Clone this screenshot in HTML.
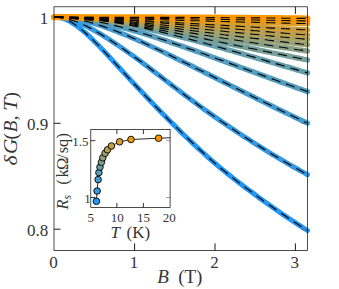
<!DOCTYPE html>
<html><head><meta charset="utf-8"><title>chart</title>
<style>html,body{margin:0;padding:0;background:#fff;overflow:hidden}svg{display:block;position:absolute;left:0;top:0}</style></head>
<body>
<svg width="339" height="289" viewBox="0 0 339 289">
<rect width="339" height="289" fill="#fff"/>
<path d="M134.6 250.4v-7M134.6 6.8v7M215.0 250.4v-7M215.0 6.8v7M295.4 250.4v-7M295.4 6.8v7M54.0 17.4h6.5M54.0 123.3h6.5M54.0 229.2h6.5" stroke="#000" stroke-width="0.9" fill="none"/>
<polyline points="54.2,17.2 57.4,17.2 60.6,17.7 63.8,18.7 67.0,20.0 70.2,21.6 73.4,23.6 76.6,25.8 79.8,28.2 83.1,30.9 86.3,33.7 89.5,36.6 92.7,39.7 95.9,42.9 99.1,46.1 102.3,49.5 105.5,52.8 108.7,56.3 111.9,59.7 115.1,63.2 118.3,66.7 121.5,70.1 124.7,73.6 127.9,77.1 131.1,80.6 134.3,84.0 137.6,87.5 140.8,90.9 144.0,94.3 147.2,97.7 150.4,101.0 153.6,104.4 156.8,107.7 160.0,111.0 163.2,114.3 166.4,117.5 169.6,120.8 172.8,123.9 176.0,127.1 179.2,130.2 182.4,133.4 185.6,136.5 188.8,139.5 192.1,142.6 195.3,145.6 198.5,148.6 201.7,151.5 204.9,154.4 208.1,157.3 211.3,160.1 214.5,162.9 217.7,165.6 220.9,168.3 224.1,170.9 227.3,173.5 230.5,176.0 233.7,178.6 236.9,181.1 240.1,183.5 243.3,186.0 246.5,188.4 249.8,190.8 253.0,193.1 256.2,195.5 259.4,197.9 262.6,200.2 265.8,202.5 269.0,204.8 272.2,207.0 275.4,209.2 278.6,211.5 281.8,213.7 285.0,215.8 288.2,218.0 291.4,220.1 294.6,222.2 297.8,224.3 301.0,226.4 304.3,228.5 307.5,230.5" fill="none" stroke="#2196f3" stroke-width="5.0" stroke-linecap="round" stroke-linejoin="round"/>
<polyline points="54.2,17.2 57.4,17.3 60.6,17.6 63.8,18.1 67.0,18.8 70.2,19.6 73.4,20.7 76.6,21.8 79.8,23.1 83.1,24.6 86.3,26.1 89.5,27.8 92.7,29.5 95.9,31.4 99.1,33.2 102.3,35.2 105.5,37.2 108.7,39.2 111.9,41.3 115.1,43.4 118.3,45.5 121.5,47.7 124.7,50.0 127.9,52.2 131.1,54.5 134.3,56.8 137.6,59.2 140.8,61.5 144.0,63.9 147.2,66.3 150.4,68.8 153.6,71.2 156.8,73.7 160.0,76.1 163.2,78.6 166.4,81.0 169.6,83.5 172.8,85.9 176.0,88.4 179.2,90.8 182.4,93.3 185.6,95.7 188.8,98.1 192.1,100.5 195.3,102.8 198.5,105.2 201.7,107.5 204.9,109.9 208.1,112.1 211.3,114.4 214.5,116.6 217.7,118.9 220.9,121.1 224.1,123.3 227.3,125.4 230.5,127.6 233.7,129.7 236.9,131.9 240.1,134.0 243.3,136.1 246.5,138.2 249.8,140.2 253.0,142.3 256.2,144.3 259.4,146.3 262.6,148.3 265.8,150.3 269.0,152.3 272.2,154.3 275.4,156.2 278.6,158.1 281.8,160.0 285.0,161.9 288.2,163.8 291.4,165.7 294.6,167.5 297.8,169.3 301.0,171.1 304.3,172.9 307.5,174.7" fill="none" stroke="#3299e1" stroke-width="5.0" stroke-linecap="round" stroke-linejoin="round"/>
<polyline points="54.2,17.2 57.4,17.3 60.6,17.4 63.8,17.6 67.0,17.9 70.2,18.3 73.4,18.8 76.6,19.3 79.8,20.0 83.1,20.7 86.3,21.4 89.5,22.2 92.7,23.1 95.9,24.1 99.1,25.1 102.3,26.1 105.5,27.2 108.7,28.3 111.9,29.5 115.1,30.7 118.3,32.0 121.5,33.3 124.7,34.6 127.9,35.9 131.1,37.3 134.3,38.7 137.6,40.1 140.8,41.5 144.0,43.0 147.2,44.5 150.4,46.0 153.6,47.5 156.8,49.0 160.0,50.5 163.2,52.0 166.4,53.6 169.6,55.1 172.8,56.7 176.0,58.3 179.2,59.8 182.4,61.4 185.6,63.0 188.8,64.6 192.1,66.2 195.3,67.8 198.5,69.4 201.7,71.0 204.9,72.6 208.1,74.2 211.3,75.8 214.5,77.4 217.7,79.1 220.9,80.7 224.1,82.3 227.3,83.9 230.5,85.5 233.7,87.1 236.9,88.7 240.1,90.3 243.3,91.9 246.5,93.5 249.8,95.1 253.0,96.7 256.2,98.3 259.4,99.9 262.6,101.5 265.8,103.0 269.0,104.6 272.2,106.2 275.4,107.8 278.6,109.3 281.8,110.9 285.0,112.4 288.2,114.0 291.4,115.5 294.6,117.1 297.8,118.6 301.0,120.1 304.3,121.7 307.5,123.2" fill="none" stroke="#439bd0" stroke-width="5.2" stroke-linecap="round" stroke-linejoin="round"/>
<polyline points="54.2,17.2 57.4,17.2 60.6,17.3 63.8,17.4 67.0,17.6 70.2,17.9 73.4,18.1 76.6,18.5 79.8,18.8 83.1,19.3 86.3,19.7 89.5,20.2 92.7,20.8 95.9,21.4 99.1,22.0 102.3,22.6 105.5,23.3 108.7,24.1 111.9,24.8 115.1,25.6 118.3,26.4 121.5,27.2 124.7,28.1 127.9,29.0 131.1,29.9 134.3,30.8 137.6,31.7 140.8,32.7 144.0,33.7 147.2,34.7 150.4,35.7 153.6,36.7 156.8,37.7 160.0,38.8 163.2,39.8 166.4,40.9 169.6,42.0 172.8,43.1 176.0,44.2 179.2,45.3 182.4,46.4 185.6,47.5 188.8,48.6 192.1,49.8 195.3,50.9 198.5,52.0 201.7,53.2 204.9,54.3 208.1,55.5 211.3,56.7 214.5,57.8 217.7,59.0 220.9,60.1 224.1,61.3 227.3,62.5 230.5,63.6 233.7,64.8 236.9,66.0 240.1,67.2 243.3,68.3 246.5,69.5 249.8,70.7 253.0,71.8 256.2,73.0 259.4,74.2 262.6,75.4 265.8,76.5 269.0,77.7 272.2,78.9 275.4,80.0 278.6,81.2 281.8,82.4 285.0,83.5 288.2,84.7 291.4,85.8 294.6,87.0 297.8,88.2 301.0,89.3 304.3,90.5 307.5,91.6" fill="none" stroke="#549dbe" stroke-width="5.4" stroke-linecap="round" stroke-linejoin="round"/>
<polyline points="54.2,17.2 57.4,17.2 60.6,17.3 63.8,17.3 67.0,17.5 70.2,17.6 73.4,17.8 76.6,18.0 79.8,18.2 83.1,18.5 86.3,18.8 89.5,19.1 92.7,19.5 95.9,19.8 99.1,20.2 102.3,20.7 105.5,21.1 108.7,21.6 111.9,22.1 115.1,22.6 118.3,23.2 121.5,23.7 124.7,24.3 127.9,24.9 131.1,25.5 134.3,26.2 137.6,26.8 140.8,27.5 144.0,28.2 147.2,28.9 150.4,29.6 153.6,30.3 156.8,31.0 160.0,31.8 163.2,32.6 166.4,33.3 169.6,34.1 172.8,34.9 176.0,35.7 179.2,36.5 182.4,37.4 185.6,38.2 188.8,39.0 192.1,39.9 195.3,40.7 198.5,41.6 201.7,42.4 204.9,43.3 208.1,44.2 211.3,45.1 214.5,46.0 217.7,46.9 220.9,47.7 224.1,48.6 227.3,49.6 230.5,50.5 233.7,51.4 236.9,52.3 240.1,53.2 243.3,54.1 246.5,55.1 249.8,56.0 253.0,56.9 256.2,57.8 259.4,58.8 262.6,59.7 265.8,60.6 269.0,61.6 272.2,62.5 275.4,63.5 278.6,64.4 281.8,65.3 285.0,66.3 288.2,67.2 291.4,68.2 294.6,69.1 297.8,70.1 301.0,71.0 304.3,72.0 307.5,72.9" fill="none" stroke="#659eac" stroke-width="5.4" stroke-linecap="round" stroke-linejoin="round"/>
<polyline points="54.2,17.2 57.4,17.2 60.6,17.3 63.8,17.3 67.0,17.5 70.2,17.6 73.4,17.8 76.6,18.0 79.8,18.2 83.1,18.5 86.3,18.7 89.5,19.0 92.7,19.4 95.9,19.7 99.1,20.1 102.3,20.5 105.5,20.9 108.7,21.3 111.9,21.8 115.1,22.2 118.3,22.7 121.5,23.2 124.7,23.7 127.9,24.2 131.1,24.8 134.3,25.3 137.6,25.9 140.8,26.4 144.0,27.0 147.2,27.6 150.4,28.2 153.6,28.8 156.8,29.4 160.0,30.0 163.2,30.6 166.4,31.2 169.6,31.8 172.8,32.5 176.0,33.1 179.2,33.7 182.4,34.4 185.6,35.0 188.8,35.7 192.1,36.3 195.3,37.0 198.5,37.6 201.7,38.3 204.9,38.9 208.1,39.6 211.3,40.2 214.5,40.9 217.7,41.6 220.9,42.2 224.1,42.9 227.3,43.5 230.5,44.2 233.7,44.9 236.9,45.5 240.1,46.2 243.3,46.9 246.5,47.5 249.8,48.2 253.0,48.8 256.2,49.5 259.4,50.2 262.6,50.8 265.8,51.5 269.0,52.1 272.2,52.8 275.4,53.4 278.6,54.1 281.8,54.7 285.0,55.4 288.2,56.0 291.4,56.7 294.6,57.3 297.8,58.0 301.0,58.6 304.3,59.3 307.5,59.9" fill="none" stroke="#769f99" stroke-width="5.4" stroke-linecap="round" stroke-linejoin="round"/>
<polyline points="54.2,17.2 57.4,17.2 60.6,17.3 63.8,17.3 67.0,17.4 70.2,17.6 73.4,17.7 76.6,17.9 79.8,18.1 83.1,18.3 86.3,18.6 89.5,18.9 92.7,19.2 95.9,19.5 99.1,19.8 102.3,20.1 105.5,20.5 108.7,20.9 111.9,21.3 115.1,21.7 118.3,22.1 121.5,22.5 124.7,22.9 127.9,23.3 131.1,23.8 134.3,24.2 137.6,24.7 140.8,25.2 144.0,25.6 147.2,26.1 150.4,26.6 153.6,27.1 156.8,27.6 160.0,28.1 163.2,28.6 166.4,29.1 169.6,29.6 172.8,30.1 176.0,30.6 179.2,31.1 182.4,31.6 185.6,32.1 188.8,32.6 192.1,33.1 195.3,33.6 198.5,34.2 201.7,34.7 204.9,35.2 208.1,35.7 211.3,36.2 214.5,36.7 217.7,37.2 220.9,37.7 224.1,38.3 227.3,38.8 230.5,39.3 233.7,39.8 236.9,40.3 240.1,40.8 243.3,41.3 246.5,41.8 249.8,42.3 253.0,42.8 256.2,43.3 259.4,43.8 262.6,44.3 265.8,44.8 269.0,45.3 272.2,45.8 275.4,46.3 278.6,46.8 281.8,47.3 285.0,47.7 288.2,48.2 291.4,48.7 294.6,49.2 297.8,49.7 301.0,50.1 304.3,50.6 307.5,51.1" fill="none" stroke="#87a087" stroke-width="5.4" stroke-linecap="round" stroke-linejoin="round"/>
<polyline points="54.2,17.2 57.4,17.2 60.6,17.3 63.8,17.3 67.0,17.4 70.2,17.5 73.4,17.7 76.6,17.8 79.8,18.0 83.1,18.2 86.3,18.4 89.5,18.7 92.7,18.9 95.9,19.2 99.1,19.5 102.3,19.8 105.5,20.1 108.7,20.4 111.9,20.8 115.1,21.1 118.3,21.4 121.5,21.8 124.7,22.2 127.9,22.5 131.1,22.9 134.3,23.3 137.6,23.7 140.8,24.1 144.0,24.4 147.2,24.8 150.4,25.2 153.6,25.6 156.8,26.0 160.0,26.5 163.2,26.9 166.4,27.3 169.6,27.7 172.8,28.1 176.0,28.5 179.2,28.9 182.4,29.3 185.6,29.7 188.8,30.1 192.1,30.6 195.3,31.0 198.5,31.4 201.7,31.8 204.9,32.2 208.1,32.6 211.3,33.0 214.5,33.4 217.7,33.8 220.9,34.2 224.1,34.7 227.3,35.1 230.5,35.5 233.7,35.9 236.9,36.3 240.1,36.7 243.3,37.1 246.5,37.5 249.8,37.9 253.0,38.2 256.2,38.6 259.4,39.0 262.6,39.4 265.8,39.8 269.0,40.2 272.2,40.6 275.4,41.0 278.6,41.3 281.8,41.7 285.0,42.1 288.2,42.5 291.4,42.9 294.6,43.2 297.8,43.6 301.0,44.0 304.3,44.3 307.5,44.7" fill="none" stroke="#99a074" stroke-width="5.4" stroke-linecap="round" stroke-linejoin="round"/>
<polyline points="54.2,17.2 57.4,17.2 60.6,17.2 63.8,17.3 67.0,17.4 70.2,17.5 73.4,17.6 76.6,17.7 79.8,17.9 83.1,18.0 86.3,18.2 89.5,18.4 92.7,18.6 95.9,18.8 99.1,19.1 102.3,19.3 105.5,19.6 108.7,19.8 111.9,20.1 115.1,20.4 118.3,20.7 121.5,20.9 124.7,21.2 127.9,21.5 131.1,21.8 134.3,22.2 137.6,22.5 140.8,22.8 144.0,23.1 147.2,23.4 150.4,23.7 153.6,24.1 156.8,24.4 160.0,24.7 163.2,25.0 166.4,25.4 169.6,25.7 172.8,26.0 176.0,26.4 179.2,26.7 182.4,27.0 185.6,27.4 188.8,27.7 192.1,28.0 195.3,28.4 198.5,28.7 201.7,29.0 204.9,29.4 208.1,29.7 211.3,30.0 214.5,30.3 217.7,30.7 220.9,31.0 224.1,31.3 227.3,31.7 230.5,32.0 233.7,32.3 236.9,32.6 240.1,32.9 243.3,33.3 246.5,33.6 249.8,33.9 253.0,34.2 256.2,34.5 259.4,34.8 262.6,35.2 265.8,35.5 269.0,35.8 272.2,36.1 275.4,36.4 278.6,36.7 281.8,37.0 285.0,37.3 288.2,37.6 291.4,37.9 294.6,38.2 297.8,38.5 301.0,38.8 304.3,39.1 307.5,39.4" fill="none" stroke="#aaa061" stroke-width="5.4" stroke-linecap="round" stroke-linejoin="round"/>
<polyline points="54.2,17.2 57.4,17.2 60.6,17.2 63.8,17.3 67.0,17.3 70.2,17.4 73.4,17.5 76.6,17.6 79.8,17.7 83.1,17.8 86.3,17.9 89.5,18.0 92.7,18.2 95.9,18.4 99.1,18.5 102.3,18.7 105.5,18.9 108.7,19.1 111.9,19.3 115.1,19.5 118.3,19.7 121.5,19.9 124.7,20.1 127.9,20.4 131.1,20.6 134.3,20.8 137.6,21.1 140.8,21.3 144.0,21.5 147.2,21.8 150.4,22.0 153.6,22.3 156.8,22.6 160.0,22.8 163.2,23.1 166.4,23.3 169.6,23.6 172.8,23.9 176.0,24.1 179.2,24.4 182.4,24.7 185.6,24.9 188.8,25.2 192.1,25.5 195.3,25.7 198.5,26.0 201.7,26.3 204.9,26.5 208.1,26.8 211.3,27.1 214.5,27.4 217.7,27.6 220.9,27.9 224.1,28.2 227.3,28.4 230.5,28.7 233.7,29.0 236.9,29.2 240.1,29.5 243.3,29.8 246.5,30.1 249.8,30.3 253.0,30.6 256.2,30.8 259.4,31.1 262.6,31.4 265.8,31.6 269.0,31.9 272.2,32.2 275.4,32.4 278.6,32.7 281.8,32.9 285.0,33.2 288.2,33.5 291.4,33.7 294.6,34.0 297.8,34.2 301.0,34.5 304.3,34.7 307.5,35.0" fill="none" stroke="#bb9f4e" stroke-width="5.4" stroke-linecap="round" stroke-linejoin="round"/>
<polyline points="54.2,17.2 57.4,17.2 60.6,17.2 63.8,17.3 67.0,17.3 70.2,17.4 73.4,17.4 76.6,17.5 79.8,17.6 83.1,17.7 86.3,17.8 89.5,17.9 92.7,18.1 95.9,18.2 99.1,18.4 102.3,18.5 105.5,18.6 108.7,18.8 111.9,19.0 115.1,19.1 118.3,19.3 121.5,19.5 124.7,19.6 127.9,19.8 131.1,20.0 134.3,20.2 137.6,20.4 140.8,20.5 144.0,20.7 147.2,20.9 150.4,21.1 153.6,21.3 156.8,21.5 160.0,21.7 163.2,21.9 166.4,22.0 169.6,22.2 172.8,22.4 176.0,22.6 179.2,22.8 182.4,23.0 185.6,23.2 188.8,23.4 192.1,23.6 195.3,23.8 198.5,23.9 201.7,24.1 204.9,24.3 208.1,24.5 211.3,24.7 214.5,24.9 217.7,25.1 220.9,25.2 224.1,25.4 227.3,25.6 230.5,25.8 233.7,26.0 236.9,26.1 240.1,26.3 243.3,26.5 246.5,26.7 249.8,26.9 253.0,27.0 256.2,27.2 259.4,27.4 262.6,27.6 265.8,27.7 269.0,27.9 272.2,28.1 275.4,28.2 278.6,28.4 281.8,28.6 285.0,28.8 288.2,28.9 291.4,29.1 294.6,29.2 297.8,29.4 301.0,29.6 304.3,29.7 307.5,29.9" fill="none" stroke="#cc9e3b" stroke-width="5.4" stroke-linecap="round" stroke-linejoin="round"/>
<polyline points="54.2,17.2 57.4,17.2 60.6,17.2 63.8,17.2 67.0,17.3 70.2,17.3 73.4,17.4 76.6,17.4 79.8,17.5 83.1,17.5 86.3,17.6 89.5,17.7 92.7,17.8 95.9,17.8 99.1,17.9 102.3,18.0 105.5,18.1 108.7,18.2 111.9,18.3 115.1,18.4 118.3,18.5 121.5,18.6 124.7,18.6 127.9,18.7 131.1,18.8 134.3,18.9 137.6,19.0 140.8,19.1 144.0,19.2 147.2,19.3 150.4,19.4 153.6,19.5 156.8,19.6 160.0,19.7 163.2,19.8 166.4,19.9 169.6,20.0 172.8,20.1 176.0,20.2 179.2,20.3 182.4,20.4 185.6,20.5 188.8,20.6 192.1,20.7 195.3,20.7 198.5,20.8 201.7,20.9 204.9,21.0 208.1,21.1 211.3,21.2 214.5,21.3 217.7,21.4 220.9,21.5 224.1,21.5 227.3,21.6 230.5,21.7 233.7,21.8 236.9,21.9 240.1,22.0 243.3,22.1 246.5,22.1 249.8,22.2 253.0,22.3 256.2,22.4 259.4,22.5 262.6,22.5 265.8,22.6 269.0,22.7 272.2,22.8 275.4,22.9 278.6,22.9 281.8,23.0 285.0,23.1 288.2,23.2 291.4,23.2 294.6,23.3 297.8,23.4 301.0,23.5 304.3,23.5 307.5,23.6" fill="none" stroke="#dd9c27" stroke-width="5.4" stroke-linecap="round" stroke-linejoin="round"/>
<polyline points="54.2,17.2 57.4,17.2 60.6,17.2 63.8,17.2 67.0,17.2 70.2,17.2 73.4,17.3 76.6,17.3 79.8,17.3 83.1,17.3 86.3,17.3 89.5,17.4 92.7,17.4 95.9,17.4 99.1,17.5 102.3,17.5 105.5,17.5 108.7,17.6 111.9,17.6 115.1,17.7 118.3,17.7 121.5,17.7 124.7,17.8 127.9,17.8 131.1,17.9 134.3,17.9 137.6,18.0 140.8,18.0 144.0,18.1 147.2,18.1 150.4,18.2 153.6,18.2 156.8,18.3 160.0,18.3 163.2,18.4 166.4,18.5 169.6,18.5 172.8,18.6 176.0,18.6 179.2,18.7 182.4,18.7 185.6,18.8 188.8,18.8 192.1,18.9 195.3,19.0 198.5,19.0 201.7,19.1 204.9,19.1 208.1,19.2 211.3,19.2 214.5,19.3 217.7,19.3 220.9,19.4 224.1,19.5 227.3,19.5 230.5,19.6 233.7,19.6 236.9,19.7 240.1,19.7 243.3,19.8 246.5,19.9 249.8,19.9 253.0,20.0 256.2,20.0 259.4,20.1 262.6,20.1 265.8,20.2 269.0,20.2 272.2,20.3 275.4,20.4 278.6,20.4 281.8,20.5 285.0,20.5 288.2,20.6 291.4,20.6 294.6,20.7 297.8,20.7 301.0,20.8 304.3,20.8 307.5,20.9" fill="none" stroke="#ee9a14" stroke-width="5.4" stroke-linecap="round" stroke-linejoin="round"/>
<polyline points="54.2,17.2 57.4,17.2 60.6,17.2 63.8,17.2 67.0,17.2 70.2,17.2 73.4,17.2 76.6,17.2 79.8,17.2 83.1,17.2 86.3,17.2 89.5,17.2 92.7,17.2 95.9,17.2 99.1,17.2 102.3,17.2 105.5,17.2 108.7,17.2 111.9,17.2 115.1,17.2 118.3,17.2 121.5,17.2 124.7,17.2 127.9,17.2 131.1,17.2 134.3,17.3 137.6,17.3 140.8,17.3 144.0,17.3 147.2,17.3 150.4,17.3 153.6,17.3 156.8,17.3 160.0,17.3 163.2,17.3 166.4,17.4 169.6,17.4 172.8,17.4 176.0,17.4 179.2,17.4 182.4,17.4 185.6,17.4 188.8,17.5 192.1,17.5 195.3,17.5 198.5,17.5 201.7,17.5 204.9,17.5 208.1,17.6 211.3,17.6 214.5,17.6 217.7,17.6 220.9,17.6 224.1,17.7 227.3,17.7 230.5,17.7 233.7,17.7 236.9,17.7 240.1,17.8 243.3,17.8 246.5,17.8 249.8,17.8 253.0,17.9 256.2,17.9 259.4,17.9 262.6,18.0 265.8,18.0 269.0,18.0 272.2,18.0 275.4,18.1 278.6,18.1 281.8,18.1 285.0,18.2 288.2,18.2 291.4,18.2 294.6,18.3 297.8,18.3 301.0,18.3 304.3,18.4 307.5,18.4" fill="none" stroke="#ff9800" stroke-width="6.0" stroke-linecap="round" stroke-linejoin="round"/>
<polyline points="54.2,17.2 57.4,17.2 60.6,17.7 63.8,18.7 67.0,20.0 70.2,21.6 73.4,23.6 76.6,25.8 79.8,28.2 83.1,30.9 86.3,33.7 89.5,36.6 92.7,39.7 95.9,42.9 99.1,46.1 102.3,49.5 105.5,52.8 108.7,56.3 111.9,59.7 115.1,63.2 118.3,66.7 121.5,70.1 124.7,73.6 127.9,77.1 131.1,80.6 134.3,84.0 137.6,87.5 140.8,90.9 144.0,94.3 147.2,97.7 150.4,101.0 153.6,104.4 156.8,107.7 160.0,111.0 163.2,114.3 166.4,117.5 169.6,120.8 172.8,123.9 176.0,127.1 179.2,130.2 182.4,133.4 185.6,136.5 188.8,139.5 192.1,142.6 195.3,145.6 198.5,148.6 201.7,151.5 204.9,154.4 208.1,157.3 211.3,160.1 214.5,162.9 217.7,165.6 220.9,168.3 224.1,170.9 227.3,173.5 230.5,176.0 233.7,178.6 236.9,181.1 240.1,183.5 243.3,186.0 246.5,188.4 249.8,190.8 253.0,193.1 256.2,195.5 259.4,197.9 262.6,200.2 265.8,202.5 269.0,204.8 272.2,207.0 275.4,209.2 278.6,211.5 281.8,213.7 285.0,215.8 288.2,218.0 291.4,220.1 294.6,222.2 297.8,224.3 301.0,226.4 304.3,228.5 307.5,230.5" fill="none" stroke="#000" stroke-width="1.15" stroke-dasharray="9.2 5.94"/>
<polyline points="54.2,17.2 57.4,17.3 60.6,17.6 63.8,18.1 67.0,18.8 70.2,19.6 73.4,20.7 76.6,21.8 79.8,23.1 83.1,24.6 86.3,26.1 89.5,27.8 92.7,29.5 95.9,31.4 99.1,33.2 102.3,35.2 105.5,37.2 108.7,39.2 111.9,41.3 115.1,43.4 118.3,45.5 121.5,47.7 124.7,50.0 127.9,52.2 131.1,54.5 134.3,56.8 137.6,59.2 140.8,61.5 144.0,63.9 147.2,66.3 150.4,68.8 153.6,71.2 156.8,73.7 160.0,76.1 163.2,78.6 166.4,81.0 169.6,83.5 172.8,85.9 176.0,88.4 179.2,90.8 182.4,93.3 185.6,95.7 188.8,98.1 192.1,100.5 195.3,102.8 198.5,105.2 201.7,107.5 204.9,109.9 208.1,112.1 211.3,114.4 214.5,116.6 217.7,118.9 220.9,121.1 224.1,123.3 227.3,125.4 230.5,127.6 233.7,129.7 236.9,131.9 240.1,134.0 243.3,136.1 246.5,138.2 249.8,140.2 253.0,142.3 256.2,144.3 259.4,146.3 262.6,148.3 265.8,150.3 269.0,152.3 272.2,154.3 275.4,156.2 278.6,158.1 281.8,160.0 285.0,161.9 288.2,163.8 291.4,165.7 294.6,167.5 297.8,169.3 301.0,171.1 304.3,172.9 307.5,174.7" fill="none" stroke="#000" stroke-width="1.15" stroke-dasharray="9.2 5.94"/>
<polyline points="54.2,17.2 57.4,17.3 60.6,17.4 63.8,17.6 67.0,17.9 70.2,18.3 73.4,18.8 76.6,19.3 79.8,20.0 83.1,20.7 86.3,21.4 89.5,22.2 92.7,23.1 95.9,24.1 99.1,25.1 102.3,26.1 105.5,27.2 108.7,28.3 111.9,29.5 115.1,30.7 118.3,32.0 121.5,33.3 124.7,34.6 127.9,35.9 131.1,37.3 134.3,38.7 137.6,40.1 140.8,41.5 144.0,43.0 147.2,44.5 150.4,46.0 153.6,47.5 156.8,49.0 160.0,50.5 163.2,52.0 166.4,53.6 169.6,55.1 172.8,56.7 176.0,58.3 179.2,59.8 182.4,61.4 185.6,63.0 188.8,64.6 192.1,66.2 195.3,67.8 198.5,69.4 201.7,71.0 204.9,72.6 208.1,74.2 211.3,75.8 214.5,77.4 217.7,79.1 220.9,80.7 224.1,82.3 227.3,83.9 230.5,85.5 233.7,87.1 236.9,88.7 240.1,90.3 243.3,91.9 246.5,93.5 249.8,95.1 253.0,96.7 256.2,98.3 259.4,99.9 262.6,101.5 265.8,103.0 269.0,104.6 272.2,106.2 275.4,107.8 278.6,109.3 281.8,110.9 285.0,112.4 288.2,114.0 291.4,115.5 294.6,117.1 297.8,118.6 301.0,120.1 304.3,121.7 307.5,123.2" fill="none" stroke="#000" stroke-width="1.15" stroke-dasharray="9.2 5.94"/>
<polyline points="54.2,17.2 57.4,17.2 60.6,17.3 63.8,17.4 67.0,17.6 70.2,17.9 73.4,18.1 76.6,18.5 79.8,18.8 83.1,19.3 86.3,19.7 89.5,20.2 92.7,20.8 95.9,21.4 99.1,22.0 102.3,22.6 105.5,23.3 108.7,24.1 111.9,24.8 115.1,25.6 118.3,26.4 121.5,27.2 124.7,28.1 127.9,29.0 131.1,29.9 134.3,30.8 137.6,31.7 140.8,32.7 144.0,33.7 147.2,34.7 150.4,35.7 153.6,36.7 156.8,37.7 160.0,38.8 163.2,39.8 166.4,40.9 169.6,42.0 172.8,43.1 176.0,44.2 179.2,45.3 182.4,46.4 185.6,47.5 188.8,48.6 192.1,49.8 195.3,50.9 198.5,52.0 201.7,53.2 204.9,54.3 208.1,55.5 211.3,56.7 214.5,57.8 217.7,59.0 220.9,60.1 224.1,61.3 227.3,62.5 230.5,63.6 233.7,64.8 236.9,66.0 240.1,67.2 243.3,68.3 246.5,69.5 249.8,70.7 253.0,71.8 256.2,73.0 259.4,74.2 262.6,75.4 265.8,76.5 269.0,77.7 272.2,78.9 275.4,80.0 278.6,81.2 281.8,82.4 285.0,83.5 288.2,84.7 291.4,85.8 294.6,87.0 297.8,88.2 301.0,89.3 304.3,90.5 307.5,91.6" fill="none" stroke="#000" stroke-width="1.15" stroke-dasharray="9.2 5.94"/>
<polyline points="54.2,17.2 57.4,17.2 60.6,17.3 63.8,17.3 67.0,17.5 70.2,17.6 73.4,17.8 76.6,18.0 79.8,18.2 83.1,18.5 86.3,18.8 89.5,19.1 92.7,19.5 95.9,19.8 99.1,20.2 102.3,20.7 105.5,21.1 108.7,21.6 111.9,22.1 115.1,22.6 118.3,23.2 121.5,23.7 124.7,24.3 127.9,24.9 131.1,25.5 134.3,26.2 137.6,26.8 140.8,27.5 144.0,28.2 147.2,28.9 150.4,29.6 153.6,30.3 156.8,31.0 160.0,31.8 163.2,32.6 166.4,33.3 169.6,34.1 172.8,34.9 176.0,35.7 179.2,36.5 182.4,37.4 185.6,38.2 188.8,39.0 192.1,39.9 195.3,40.7 198.5,41.6 201.7,42.4 204.9,43.3 208.1,44.2 211.3,45.1 214.5,46.0 217.7,46.9 220.9,47.7 224.1,48.6 227.3,49.6 230.5,50.5 233.7,51.4 236.9,52.3 240.1,53.2 243.3,54.1 246.5,55.1 249.8,56.0 253.0,56.9 256.2,57.8 259.4,58.8 262.6,59.7 265.8,60.6 269.0,61.6 272.2,62.5 275.4,63.5 278.6,64.4 281.8,65.3 285.0,66.3 288.2,67.2 291.4,68.2 294.6,69.1 297.8,70.1 301.0,71.0 304.3,72.0 307.5,72.9" fill="none" stroke="#000" stroke-width="1.15" stroke-dasharray="9.2 5.94"/>
<polyline points="54.2,17.2 57.4,17.2 60.6,17.3 63.8,17.3 67.0,17.5 70.2,17.6 73.4,17.8 76.6,18.0 79.8,18.2 83.1,18.5 86.3,18.7 89.5,19.0 92.7,19.4 95.9,19.7 99.1,20.1 102.3,20.5 105.5,20.9 108.7,21.3 111.9,21.8 115.1,22.2 118.3,22.7 121.5,23.2 124.7,23.7 127.9,24.2 131.1,24.8 134.3,25.3 137.6,25.9 140.8,26.4 144.0,27.0 147.2,27.6 150.4,28.2 153.6,28.8 156.8,29.4 160.0,30.0 163.2,30.6 166.4,31.2 169.6,31.8 172.8,32.5 176.0,33.1 179.2,33.7 182.4,34.4 185.6,35.0 188.8,35.7 192.1,36.3 195.3,37.0 198.5,37.6 201.7,38.3 204.9,38.9 208.1,39.6 211.3,40.2 214.5,40.9 217.7,41.6 220.9,42.2 224.1,42.9 227.3,43.5 230.5,44.2 233.7,44.9 236.9,45.5 240.1,46.2 243.3,46.9 246.5,47.5 249.8,48.2 253.0,48.8 256.2,49.5 259.4,50.2 262.6,50.8 265.8,51.5 269.0,52.1 272.2,52.8 275.4,53.4 278.6,54.1 281.8,54.7 285.0,55.4 288.2,56.0 291.4,56.7 294.6,57.3 297.8,58.0 301.0,58.6 304.3,59.3 307.5,59.9" fill="none" stroke="#000" stroke-width="1.15" stroke-dasharray="9.2 5.94"/>
<polyline points="54.2,17.2 57.4,17.2 60.6,17.3 63.8,17.3 67.0,17.4 70.2,17.6 73.4,17.7 76.6,17.9 79.8,18.1 83.1,18.3 86.3,18.6 89.5,18.9 92.7,19.2 95.9,19.5 99.1,19.8 102.3,20.1 105.5,20.5 108.7,20.9 111.9,21.3 115.1,21.7 118.3,22.1 121.5,22.5 124.7,22.9 127.9,23.3 131.1,23.8 134.3,24.2 137.6,24.7 140.8,25.2 144.0,25.6 147.2,26.1 150.4,26.6 153.6,27.1 156.8,27.6 160.0,28.1 163.2,28.6 166.4,29.1 169.6,29.6 172.8,30.1 176.0,30.6 179.2,31.1 182.4,31.6 185.6,32.1 188.8,32.6 192.1,33.1 195.3,33.6 198.5,34.2 201.7,34.7 204.9,35.2 208.1,35.7 211.3,36.2 214.5,36.7 217.7,37.2 220.9,37.7 224.1,38.3 227.3,38.8 230.5,39.3 233.7,39.8 236.9,40.3 240.1,40.8 243.3,41.3 246.5,41.8 249.8,42.3 253.0,42.8 256.2,43.3 259.4,43.8 262.6,44.3 265.8,44.8 269.0,45.3 272.2,45.8 275.4,46.3 278.6,46.8 281.8,47.3 285.0,47.7 288.2,48.2 291.4,48.7 294.6,49.2 297.8,49.7 301.0,50.1 304.3,50.6 307.5,51.1" fill="none" stroke="#000" stroke-width="1.15" stroke-dasharray="9.2 5.94"/>
<polyline points="54.2,17.2 57.4,17.2 60.6,17.3 63.8,17.3 67.0,17.4 70.2,17.5 73.4,17.7 76.6,17.8 79.8,18.0 83.1,18.2 86.3,18.4 89.5,18.7 92.7,18.9 95.9,19.2 99.1,19.5 102.3,19.8 105.5,20.1 108.7,20.4 111.9,20.8 115.1,21.1 118.3,21.4 121.5,21.8 124.7,22.2 127.9,22.5 131.1,22.9 134.3,23.3 137.6,23.7 140.8,24.1 144.0,24.4 147.2,24.8 150.4,25.2 153.6,25.6 156.8,26.0 160.0,26.5 163.2,26.9 166.4,27.3 169.6,27.7 172.8,28.1 176.0,28.5 179.2,28.9 182.4,29.3 185.6,29.7 188.8,30.1 192.1,30.6 195.3,31.0 198.5,31.4 201.7,31.8 204.9,32.2 208.1,32.6 211.3,33.0 214.5,33.4 217.7,33.8 220.9,34.2 224.1,34.7 227.3,35.1 230.5,35.5 233.7,35.9 236.9,36.3 240.1,36.7 243.3,37.1 246.5,37.5 249.8,37.9 253.0,38.2 256.2,38.6 259.4,39.0 262.6,39.4 265.8,39.8 269.0,40.2 272.2,40.6 275.4,41.0 278.6,41.3 281.8,41.7 285.0,42.1 288.2,42.5 291.4,42.9 294.6,43.2 297.8,43.6 301.0,44.0 304.3,44.3 307.5,44.7" fill="none" stroke="#000" stroke-width="1.15" stroke-dasharray="9.2 5.94"/>
<polyline points="54.2,17.2 57.4,17.2 60.6,17.2 63.8,17.3 67.0,17.4 70.2,17.5 73.4,17.6 76.6,17.7 79.8,17.9 83.1,18.0 86.3,18.2 89.5,18.4 92.7,18.6 95.9,18.8 99.1,19.1 102.3,19.3 105.5,19.6 108.7,19.8 111.9,20.1 115.1,20.4 118.3,20.7 121.5,20.9 124.7,21.2 127.9,21.5 131.1,21.8 134.3,22.2 137.6,22.5 140.8,22.8 144.0,23.1 147.2,23.4 150.4,23.7 153.6,24.1 156.8,24.4 160.0,24.7 163.2,25.0 166.4,25.4 169.6,25.7 172.8,26.0 176.0,26.4 179.2,26.7 182.4,27.0 185.6,27.4 188.8,27.7 192.1,28.0 195.3,28.4 198.5,28.7 201.7,29.0 204.9,29.4 208.1,29.7 211.3,30.0 214.5,30.3 217.7,30.7 220.9,31.0 224.1,31.3 227.3,31.7 230.5,32.0 233.7,32.3 236.9,32.6 240.1,32.9 243.3,33.3 246.5,33.6 249.8,33.9 253.0,34.2 256.2,34.5 259.4,34.8 262.6,35.2 265.8,35.5 269.0,35.8 272.2,36.1 275.4,36.4 278.6,36.7 281.8,37.0 285.0,37.3 288.2,37.6 291.4,37.9 294.6,38.2 297.8,38.5 301.0,38.8 304.3,39.1 307.5,39.4" fill="none" stroke="#000" stroke-width="1.15" stroke-dasharray="9.2 5.94"/>
<polyline points="54.2,17.2 57.4,17.2 60.6,17.2 63.8,17.3 67.0,17.3 70.2,17.4 73.4,17.5 76.6,17.6 79.8,17.7 83.1,17.8 86.3,17.9 89.5,18.0 92.7,18.2 95.9,18.4 99.1,18.5 102.3,18.7 105.5,18.9 108.7,19.1 111.9,19.3 115.1,19.5 118.3,19.7 121.5,19.9 124.7,20.1 127.9,20.4 131.1,20.6 134.3,20.8 137.6,21.1 140.8,21.3 144.0,21.5 147.2,21.8 150.4,22.0 153.6,22.3 156.8,22.6 160.0,22.8 163.2,23.1 166.4,23.3 169.6,23.6 172.8,23.9 176.0,24.1 179.2,24.4 182.4,24.7 185.6,24.9 188.8,25.2 192.1,25.5 195.3,25.7 198.5,26.0 201.7,26.3 204.9,26.5 208.1,26.8 211.3,27.1 214.5,27.4 217.7,27.6 220.9,27.9 224.1,28.2 227.3,28.4 230.5,28.7 233.7,29.0 236.9,29.2 240.1,29.5 243.3,29.8 246.5,30.1 249.8,30.3 253.0,30.6 256.2,30.8 259.4,31.1 262.6,31.4 265.8,31.6 269.0,31.9 272.2,32.2 275.4,32.4 278.6,32.7 281.8,32.9 285.0,33.2 288.2,33.5 291.4,33.7 294.6,34.0 297.8,34.2 301.0,34.5 304.3,34.7 307.5,35.0" fill="none" stroke="#000" stroke-width="1.15" stroke-dasharray="9.2 5.94"/>
<polyline points="54.2,17.2 57.4,17.2 60.6,17.2 63.8,17.3 67.0,17.3 70.2,17.4 73.4,17.4 76.6,17.5 79.8,17.6 83.1,17.7 86.3,17.8 89.5,17.9 92.7,18.1 95.9,18.2 99.1,18.4 102.3,18.5 105.5,18.6 108.7,18.8 111.9,19.0 115.1,19.1 118.3,19.3 121.5,19.5 124.7,19.6 127.9,19.8 131.1,20.0 134.3,20.2 137.6,20.4 140.8,20.5 144.0,20.7 147.2,20.9 150.4,21.1 153.6,21.3 156.8,21.5 160.0,21.7 163.2,21.9 166.4,22.0 169.6,22.2 172.8,22.4 176.0,22.6 179.2,22.8 182.4,23.0 185.6,23.2 188.8,23.4 192.1,23.6 195.3,23.8 198.5,23.9 201.7,24.1 204.9,24.3 208.1,24.5 211.3,24.7 214.5,24.9 217.7,25.1 220.9,25.2 224.1,25.4 227.3,25.6 230.5,25.8 233.7,26.0 236.9,26.1 240.1,26.3 243.3,26.5 246.5,26.7 249.8,26.9 253.0,27.0 256.2,27.2 259.4,27.4 262.6,27.6 265.8,27.7 269.0,27.9 272.2,28.1 275.4,28.2 278.6,28.4 281.8,28.6 285.0,28.8 288.2,28.9 291.4,29.1 294.6,29.2 297.8,29.4 301.0,29.6 304.3,29.7 307.5,29.9" fill="none" stroke="#000" stroke-width="1.15" stroke-dasharray="9.2 5.94"/>
<polyline points="54.2,17.2 57.4,17.2 60.6,17.2 63.8,17.2 67.0,17.3 70.2,17.3 73.4,17.4 76.6,17.4 79.8,17.5 83.1,17.5 86.3,17.6 89.5,17.7 92.7,17.8 95.9,17.8 99.1,17.9 102.3,18.0 105.5,18.1 108.7,18.2 111.9,18.3 115.1,18.4 118.3,18.5 121.5,18.6 124.7,18.6 127.9,18.7 131.1,18.8 134.3,18.9 137.6,19.0 140.8,19.1 144.0,19.2 147.2,19.3 150.4,19.4 153.6,19.5 156.8,19.6 160.0,19.7 163.2,19.8 166.4,19.9 169.6,20.0 172.8,20.1 176.0,20.2 179.2,20.3 182.4,20.4 185.6,20.5 188.8,20.6 192.1,20.7 195.3,20.7 198.5,20.8 201.7,20.9 204.9,21.0 208.1,21.1 211.3,21.2 214.5,21.3 217.7,21.4 220.9,21.5 224.1,21.5 227.3,21.6 230.5,21.7 233.7,21.8 236.9,21.9 240.1,22.0 243.3,22.1 246.5,22.1 249.8,22.2 253.0,22.3 256.2,22.4 259.4,22.5 262.6,22.5 265.8,22.6 269.0,22.7 272.2,22.8 275.4,22.9 278.6,22.9 281.8,23.0 285.0,23.1 288.2,23.2 291.4,23.2 294.6,23.3 297.8,23.4 301.0,23.5 304.3,23.5 307.5,23.6" fill="none" stroke="#000" stroke-width="1.15" stroke-dasharray="9.2 5.94"/>
<polyline points="54.2,17.2 57.4,17.2 60.6,17.2 63.8,17.2 67.0,17.2 70.2,17.2 73.4,17.3 76.6,17.3 79.8,17.3 83.1,17.3 86.3,17.3 89.5,17.4 92.7,17.4 95.9,17.4 99.1,17.5 102.3,17.5 105.5,17.5 108.7,17.6 111.9,17.6 115.1,17.7 118.3,17.7 121.5,17.7 124.7,17.8 127.9,17.8 131.1,17.9 134.3,17.9 137.6,18.0 140.8,18.0 144.0,18.1 147.2,18.1 150.4,18.2 153.6,18.2 156.8,18.3 160.0,18.3 163.2,18.4 166.4,18.5 169.6,18.5 172.8,18.6 176.0,18.6 179.2,18.7 182.4,18.7 185.6,18.8 188.8,18.8 192.1,18.9 195.3,19.0 198.5,19.0 201.7,19.1 204.9,19.1 208.1,19.2 211.3,19.2 214.5,19.3 217.7,19.3 220.9,19.4 224.1,19.5 227.3,19.5 230.5,19.6 233.7,19.6 236.9,19.7 240.1,19.7 243.3,19.8 246.5,19.9 249.8,19.9 253.0,20.0 256.2,20.0 259.4,20.1 262.6,20.1 265.8,20.2 269.0,20.2 272.2,20.3 275.4,20.4 278.6,20.4 281.8,20.5 285.0,20.5 288.2,20.6 291.4,20.6 294.6,20.7 297.8,20.7 301.0,20.8 304.3,20.8 307.5,20.9" fill="none" stroke="#000" stroke-width="1.15" stroke-dasharray="9.2 5.94"/>
<polyline points="54.2,17.2 57.4,17.2 60.6,17.2 63.8,17.2 67.0,17.2 70.2,17.2 73.4,17.2 76.6,17.2 79.8,17.2 83.1,17.2 86.3,17.2 89.5,17.2 92.7,17.2 95.9,17.2 99.1,17.2 102.3,17.2 105.5,17.2 108.7,17.2 111.9,17.2 115.1,17.2 118.3,17.2 121.5,17.2 124.7,17.2 127.9,17.2 131.1,17.2 134.3,17.3 137.6,17.3 140.8,17.3 144.0,17.3 147.2,17.3 150.4,17.3 153.6,17.3 156.8,17.3 160.0,17.3 163.2,17.3 166.4,17.4 169.6,17.4 172.8,17.4 176.0,17.4 179.2,17.4 182.4,17.4 185.6,17.4 188.8,17.5 192.1,17.5 195.3,17.5 198.5,17.5 201.7,17.5 204.9,17.5 208.1,17.6 211.3,17.6 214.5,17.6 217.7,17.6 220.9,17.6 224.1,17.7 227.3,17.7 230.5,17.7 233.7,17.7 236.9,17.7 240.1,17.8 243.3,17.8 246.5,17.8 249.8,17.8 253.0,17.9 256.2,17.9 259.4,17.9 262.6,18.0 265.8,18.0 269.0,18.0 272.2,18.0 275.4,18.1 278.6,18.1 281.8,18.1 285.0,18.2 288.2,18.2 291.4,18.2 294.6,18.3 297.8,18.3 301.0,18.3 304.3,18.4 307.5,18.4" fill="none" stroke="#000" stroke-width="1.15" stroke-dasharray="9.2 5.94"/>
<path d="M307.6 17.4h-6M307.6 123.3h-6M307.6 229.2h-6" stroke="#666" stroke-width="0.9" fill="none"/>
<rect x="54.0" y="6.8" width="253.6" height="243.6" fill="none" stroke="#000" stroke-width="0.70"/>
<rect x="90.8" y="129.6" width="79.3" height="77.8" fill="#fff"/>
<path d="M116.9 207.4v-4.5M116.9 129.6v4.5M143.4 207.4v-4.5M143.4 129.6v4.5M90.8 140.7h4.5M90.8 197.5h4.5" stroke="#000" stroke-width="0.8" fill="none"/>
<path d="M170.1 140.7h-4M170.1 197.5h-4" stroke="#888" stroke-width="0.8" fill="none"/>
<polyline points="96.4,201.3 97.1,191.0 98.1,179.6 98.9,172.6 100.0,167.1 101.4,162.3 102.8,157.8 105.1,153.3 107.5,149.8 111.4,146.0 119.6,141.8 131.0,139.5 158.6,138.2 170.1,137.8" fill="none" stroke="#111" stroke-width="0.9"/>
<circle cx="96.4" cy="201.3" r="3.3" fill="#2196f3" stroke="#000" stroke-width="0.9"/>
<circle cx="97.1" cy="191.0" r="3.3" fill="#3499e0" stroke="#000" stroke-width="0.9"/>
<circle cx="98.1" cy="179.6" r="3.3" fill="#469bcd" stroke="#000" stroke-width="0.9"/>
<circle cx="98.9" cy="172.6" r="3.3" fill="#589db9" stroke="#000" stroke-width="0.9"/>
<circle cx="100.0" cy="167.1" r="3.3" fill="#6b9fa6" stroke="#000" stroke-width="0.9"/>
<circle cx="101.4" cy="162.3" r="3.3" fill="#7ea092" stroke="#000" stroke-width="0.9"/>
<circle cx="102.8" cy="157.8" r="3.3" fill="#90a07e" stroke="#000" stroke-width="0.9"/>
<circle cx="105.1" cy="153.3" r="3.3" fill="#a2a069" stroke="#000" stroke-width="0.9"/>
<circle cx="107.5" cy="149.8" r="3.3" fill="#b59f55" stroke="#000" stroke-width="0.9"/>
<circle cx="111.4" cy="146.0" r="3.3" fill="#c89e40" stroke="#000" stroke-width="0.9"/>
<circle cx="119.6" cy="141.8" r="3.3" fill="#da9d2b" stroke="#000" stroke-width="0.9"/>
<circle cx="131.0" cy="139.5" r="3.3" fill="#ec9b15" stroke="#000" stroke-width="0.9"/>
<circle cx="158.6" cy="138.2" r="3.3" fill="#ff9800" stroke="#000" stroke-width="0.9"/>
<rect x="90.8" y="129.6" width="79.3" height="77.8" fill="none" stroke="#000" stroke-width="0.70"/>
<g font-family="'Liberation Serif', serif" fill="#353535">
<g font-size="17">
<text x="48.2" y="24.1" text-anchor="end">1</text>
<text x="48.2" y="130.0" text-anchor="end">0.9</text>
<text x="48.2" y="235.9" text-anchor="end">0.8</text>
<text x="53.6" y="268.0" text-anchor="middle">0</text>
<text x="134.0" y="268.0" text-anchor="middle">1</text>
<text x="214.4" y="268.0" text-anchor="middle">2</text>
<text x="294.8" y="268.0" text-anchor="middle">3</text>
</g>
<g font-size="19"><text x="157.2" y="283.3" font-style="italic">B</text><text x="178.2" y="283.3">(T)</text></g>
<g font-size="19" transform="translate(17.2,165.5) rotate(-90)">
<text transform="translate(0.0,0) scale(1.15,1)" x="0" y="0" font-style="italic">δ</text>
<text transform="translate(11.4,0) scale(1.12,1)" x="0" y="0" font-style="italic">G</text>
<text transform="translate(26.0,0) scale(1.00,1)" x="0" y="0">(</text>
<text transform="translate(33.3,0) scale(1.00,1)" x="0" y="0" font-style="italic">B</text>
<text transform="translate(45.2,0) scale(1.00,1)" x="0" y="0">,</text>
<text transform="translate(54.6,0) scale(1.18,1)" x="0" y="0" font-style="italic">T</text>
<text transform="translate(67.0,0) scale(1.00,1)" x="0" y="0">)</text>
</g>
<g font-size="13">
<text x="90.7" y="221.8" text-anchor="middle">5</text>
<text x="117.3" y="221.8" text-anchor="middle">10</text>
<text x="143.6" y="221.8" text-anchor="middle">15</text>
<text x="169.3" y="221.8" text-anchor="middle">20</text>
<text x="88.6" y="146.1" text-anchor="end">1.5</text>
<text x="90.8" y="202.9" text-anchor="end">1</text>
</g>
<g font-size="17"><text x="110.6" y="237.8" font-style="italic">T</text><text x="126.5" y="237.8">(K)</text></g>
<g font-size="16.5" transform="translate(68.3,209.3) rotate(-90)">
<text x="-0.3" y="0" font-style="italic">R</text><text x="9.8" y="3.0" font-size="11.5" font-style="italic">s</text>
<text x="24.6" y="0">(</text>
<text x="31.8" y="0">k</text>
<text x="39.4" y="0">Ω</text>
<text x="50.5" y="0">/</text>
<text x="56.0" y="0">s</text>
<text x="62.2" y="0">q</text>
<text x="70.8" y="0">)</text>
</g>
</g>
</svg>
</body></html>
